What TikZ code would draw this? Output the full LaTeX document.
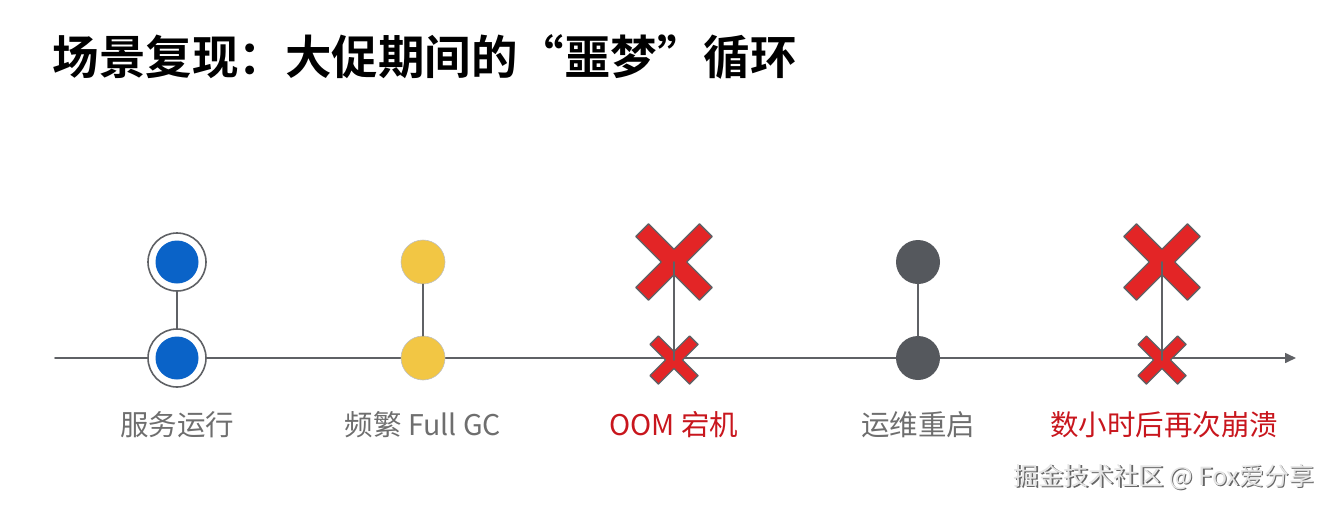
\documentclass[tikz,border=0pt]{standalone}
\usepackage{fontspec}
\usetikzlibrary{arrows.meta}
\newfontfamily\cjk{Noto Sans CJK SC}
\newfontfamily\cjkbold{Noto Sans CJK SC Bold}

\definecolor{axisgray}{HTML}{5F6165}
\definecolor{dotblue}{HTML}{0A63C8}
\definecolor{dotyellow}{HTML}{F2C644}
\definecolor{dotgray}{HTML}{55585D}
\definecolor{crossred}{HTML}{E32526}
\definecolor{labelgray}{HTML}{6E6E6E}
\definecolor{labelred}{HTML}{C8161D}

\begin{document}
\begin{tikzpicture}[x=1pt, y=-1pt, line cap=round, line join=round,
    ring/.style={circle, draw=axisgray, line width=1.6pt, fill=white, minimum size=58pt, inner sep=0pt},
    bluedot/.style={circle, fill=dotblue, minimum size=43pt, inner sep=0pt},
    yellowdot/.style={circle, fill=dotyellow, draw=axisgray!40, line width=0.6pt, minimum size=44pt, inner sep=0pt},
    graydot/.style={circle, fill=dotgray, minimum size=44pt, inner sep=0pt},
    stem/.style={draw=axisgray, line width=1.6pt},
    crossmark/.style={fill=crossred, draw=axisgray, line width=1.3pt},
    steplabel/.style={font=\cjk\fontsize{28.5}{32}\selectfont, text=labelgray},
    faillabel/.style={font=\cjk\fontsize{28.5}{32}\selectfont, text=labelred}]

    \useasboundingbox (0,0) rectangle (1331,504);

    % title
    \node[anchor=west, font=\cjkbold\fontsize{46.5}{52}\selectfont] (title) at (49,57) {场景复现：大促期间的“噩梦”循环};

    % time axis
    \coordinate (axisstart) at (55,358);
    \coordinate (axisend) at (1296,358);
    \draw[axisgray, line width=1.6pt, -{Triangle[length=11pt,width=10pt]}] (axisstart) -- (axisend);

    % service running
    \node[ring] (runtopring) at (177,262) {};
    \node[bluedot] (runtop) at (177,262) {};
    \node[ring] (runbotring) at (177,358) {};
    \node[bluedot] (runbot) at (177,358) {};
    \draw[stem] (runtopring) -- (runbotring);

    % frequent full gc
    \node[yellowdot] (gctop) at (423,262) {};
    \node[yellowdot] (gcbot) at (423,358) {};
    \draw[stem] (gctop) -- (gcbot);

    % oom
    \coordinate (oomtop) at (674,262);
    \coordinate (oombot) at (674,360);
    \begin{scope}[shift={(oomtop)}, rotate=45]
        \draw[crossmark] (9,9) -- (9,45) -- (-9,45) -- (-9,9) -- (-45,9) -- (-45,-9) -- (-9,-9) -- (-9,-45) -- (9,-45) -- (9,-9) -- (45,-9) -- (45,9) -- cycle;
    \end{scope}
    \begin{scope}[shift={(oombot)}, rotate=45]
        \draw[crossmark] (6,6) -- (6,28) -- (-6,28) -- (-6,6) -- (-28,6) -- (-28,-6) -- (-6,-6) -- (-6,-28) -- (6,-28) -- (6,-6) -- (28,-6) -- (28,6) -- cycle;
    \end{scope}
    \draw[stem] (oomtop) -- (oombot);

    % restart
    \node[graydot] (restarttop) at (918,262) {};
    \node[graydot] (restartbot) at (918,358) {};
    \draw[stem] (restarttop) -- (restartbot);

    % crash again
    \coordinate (crashtop) at (1162,262);
    \coordinate (crashbot) at (1162,360);
    \begin{scope}[shift={(crashtop)}, rotate=45]
        \draw[crossmark] (9,9) -- (9,45) -- (-9,45) -- (-9,9) -- (-45,9) -- (-45,-9) -- (-9,-9) -- (-9,-45) -- (9,-45) -- (9,-9) -- (45,-9) -- (45,9) -- cycle;
    \end{scope}
    \begin{scope}[shift={(crashbot)}, rotate=45]
        \draw[crossmark] (6,6) -- (6,28) -- (-6,28) -- (-6,6) -- (-28,6) -- (-28,-6) -- (-6,-6) -- (-6,-28) -- (6,-28) -- (6,-6) -- (28,-6) -- (28,6) -- cycle;
    \end{scope}
    \draw[stem] (crashtop) -- (crashbot);

    % labels
    \node[steplabel] (runlabel) at (177,425) {服务运行};
    \node[steplabel] (gclabel) at (423,425) {频繁 Full GC};
    \node[faillabel] (oomlabel) at (674,425) {OOM 宕机};
    \node[steplabel] (restartlabel) at (918,425) {运维重启};
    \node[faillabel] (crashlabel) at (1164,425) {数小时后再次崩溃};

    % watermark
    \node[font=\cjk\fontsize{25}{28}\selectfont, text=black!60] at (1165.5,478.5) {掘金技术社区 @ Fox爱分享};
    \node[font=\cjk\fontsize{25}{28}\selectfont, text=black!10] (mark) at (1164,477) {掘金技术社区 @ Fox爱分享};

\end{tikzpicture}
\end{document}
